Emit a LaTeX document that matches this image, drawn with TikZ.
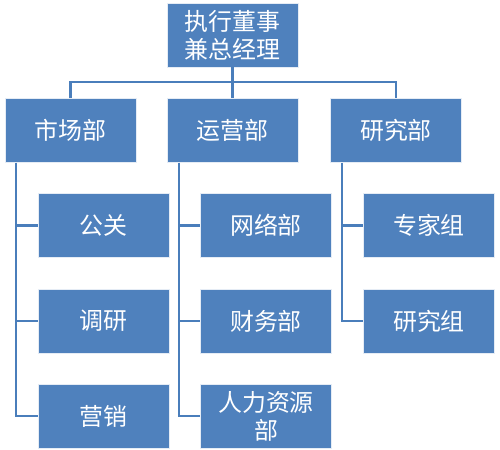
\documentclass[tikz,border=0pt]{standalone}
\usepackage{fontspec}
\newfontfamily\cjk{Noto Sans CJK SC}
\definecolor{boxblue}{HTML}{4F81BD}
\definecolor{lineblue}{HTML}{4A7EBB}
\begin{document}
\begin{tikzpicture}[x=1bp,y=-1bp,
  box/.style={rectangle, fill=boxblue, draw=white!85!boxblue, line width=0.8bp,
    minimum width=131bp, minimum height=64bp, inner sep=0pt, align=center,
    text=white, font=\cjk\fontsize{24}{28}\selectfont},
  conn/.style={draw=lineblue, line width=2.8bp}]
\useasboundingbox (0,0) rectangle (500,450);
% top
\node[box] (top) at (232.5,35) {执行董事\\兼总经理};
% level 1
\node[box] (l1) at (70.5,130.5) {市场部};
\node[box] (l2) at (232.5,130.5) {运营部};
\node[box] (l3) at (396,130.5) {研究部};
% children of l1
\node[box] (c11) at (103.5,225.5) {公关};
\node[box] (c12) at (103.5,321) {调研};
\node[box] (c13) at (103.5,416) {营销};
% children of l2
\node[box] (c21) at (266,225.5) {网络部};
\node[box] (c22) at (266,321) {财务部};
\node[box] (c23) at (266,416) {人力资源\\部};
% children of l3
\node[box] (c31) at (429,225.5) {专家组};
\node[box] (c32) at (429,321) {研究组};
% connectors
\coordinate (bus) at (0,82);
\coordinate (x1) at (16,0);
\coordinate (x2) at (179,0);
\coordinate (x3) at (342,0);
\draw[conn] (top.south) -- (l2.north);
\draw[conn] (l1.north) -- (l1.north |- bus) -- (l3.north |- bus) -- (l3.north);
\draw[conn] (l1.south -| x1) |- (c11.west);
\draw[conn] (l1.south -| x1) |- (c12.west);
\draw[conn] (l1.south -| x1) |- (c13.west);
\draw[conn] (l2.south -| x2) |- (c21.west);
\draw[conn] (l2.south -| x2) |- (c22.west);
\draw[conn] (l2.south -| x2) |- (c23.west);
\draw[conn] (l3.south -| x3) |- (c31.west);
\draw[conn] (l3.south -| x3) |- (c32.west);
\end{tikzpicture}
\end{document}
